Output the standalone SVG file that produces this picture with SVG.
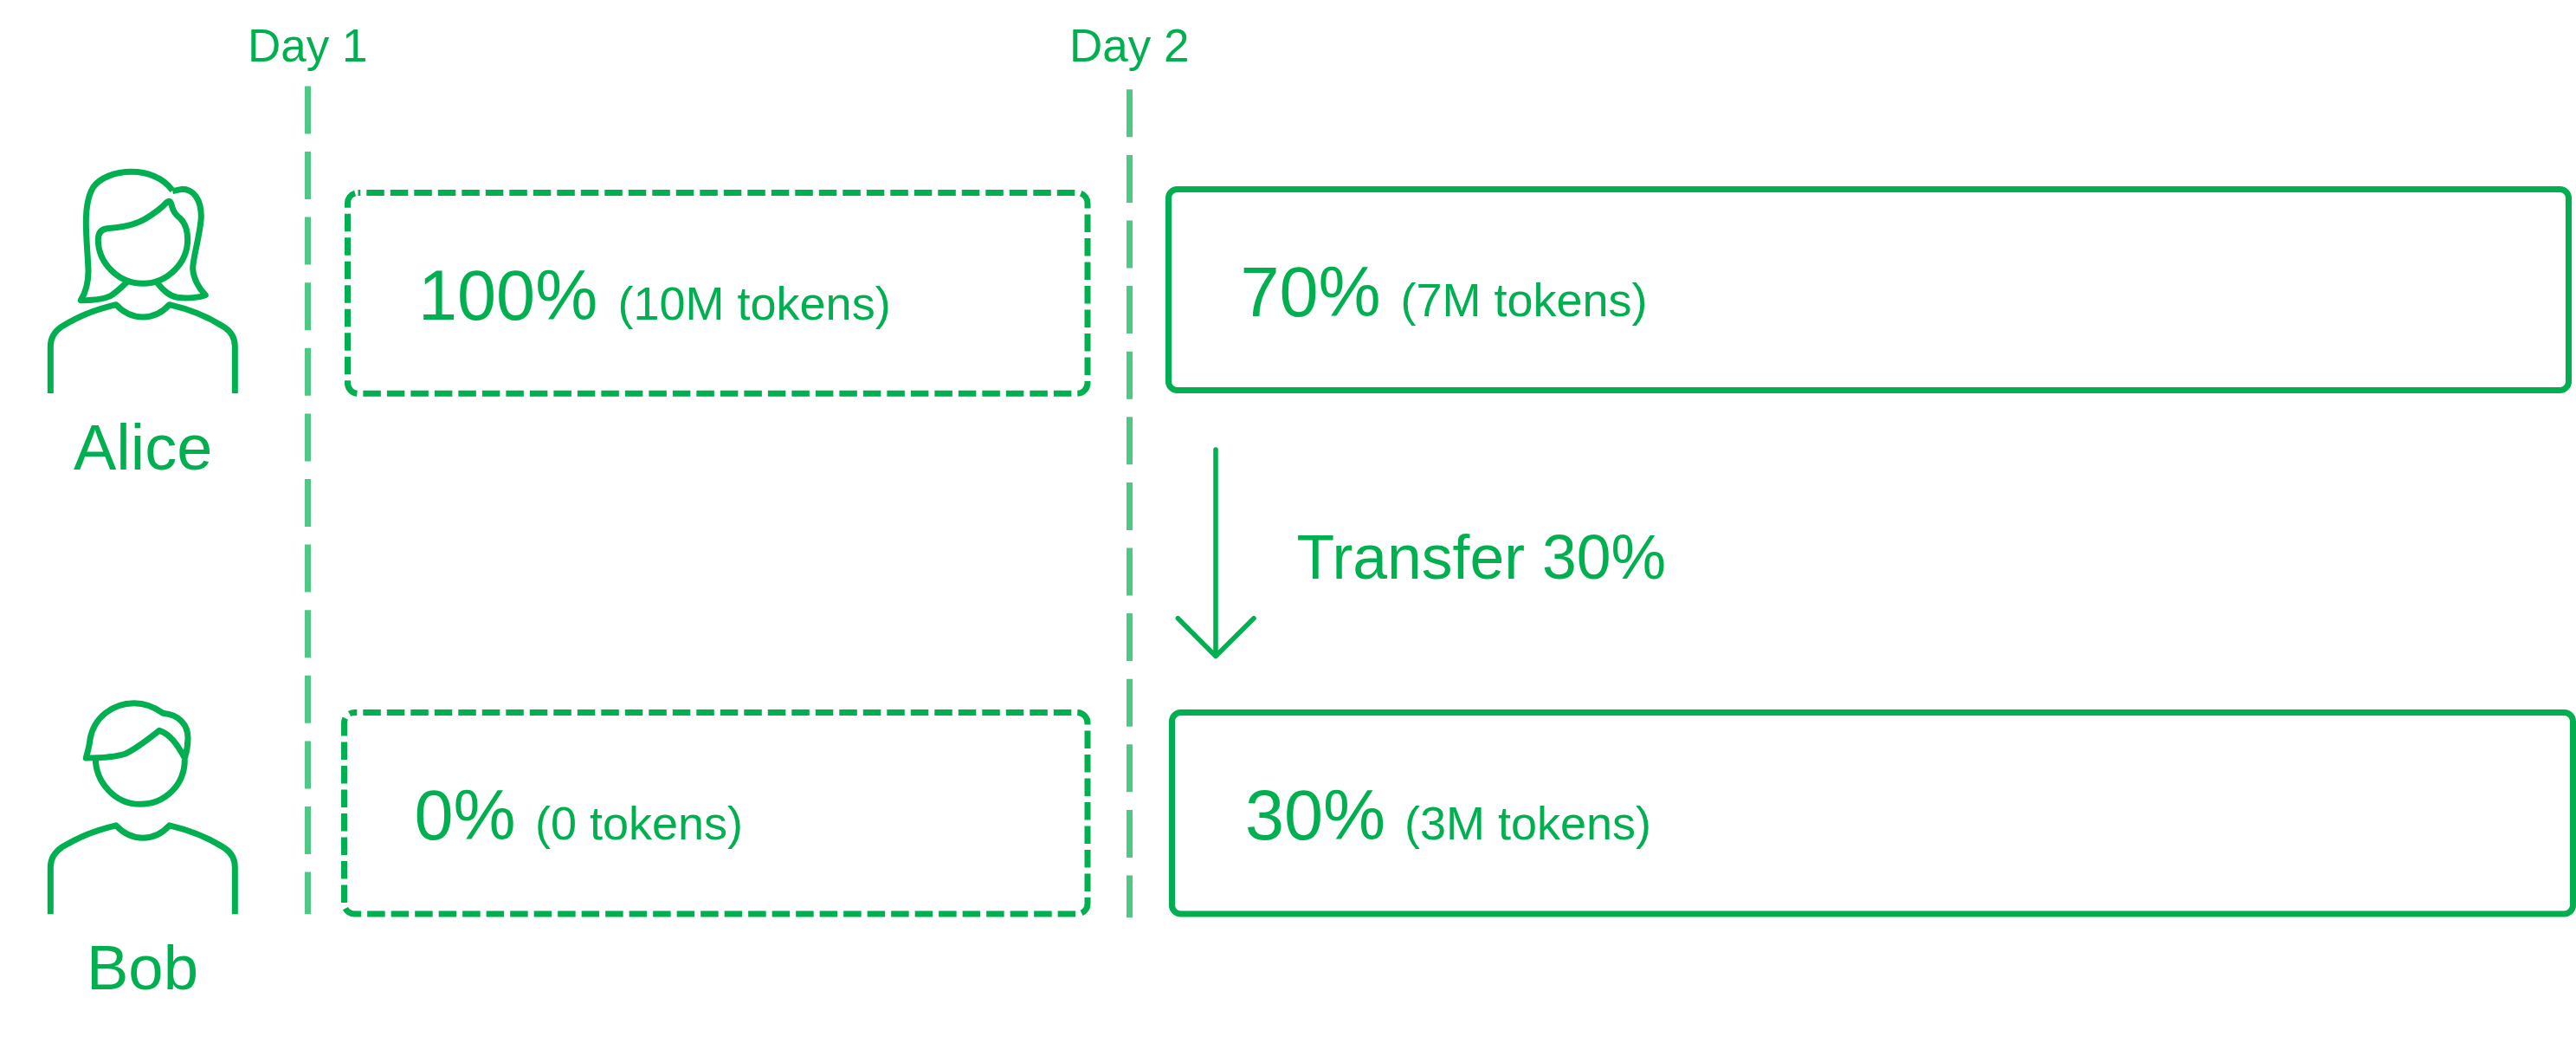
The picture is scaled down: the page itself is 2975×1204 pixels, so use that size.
<svg xmlns="http://www.w3.org/2000/svg" width="2975" height="1204" viewBox="0 0 2975 1204">
<style>
text{font-family:"Liberation Sans",Arial,sans-serif;fill:#00B050}
.t53{font-size:53px}.t71{font-size:71.5px}.t74{font-size:74px}.t72{font-size:72.5px}.t85{font-size:81px}.t54{font-size:54px}
.box{fill:none;stroke:#00B050;stroke-width:7}
.dash{stroke-dasharray:20.5 7;stroke-dashoffset:17.7}
.day{fill:none;stroke:#00B050;stroke-width:7;stroke-opacity:.69;stroke-dasharray:55 20.6}
.ico{fill:none;stroke:#00B050;stroke-width:21;stroke-linejoin:round}
.arrow{fill:none;stroke:#00B050;stroke-width:5.5;stroke-linecap:round;stroke-linejoin:round}
</style>
<defs>
<path id="body" d="M175,912 V750 C175,722 188,698 215,680 C275,645 320,625 402,605 C430,635 460,648 495,648 C530,648 560,635 587,605 C660,622 720,645 780,685 C802,700 814,725 814,750 V912"/>
</defs>
<rect width="2975" height="1204" fill="#fff"/>
<g id="day1"><text class="t53" x="286" y="71">Day 1</text></g>
<g id="day2"><text class="t53" x="1235" y="71">Day 2</text></g>
<g id="connectors">
<path id="day1-line" class="day" d="M355.5,99.4 V1055.3"/>
<path id="day2-line" class="day" d="M1304.5,103.3 V1059.3"/>
<path id="transfer-arrow" class="arrow" d="M1404,519 V757 M1360.3,713.7 L1404,757.5 L1448,713.7"/>
</g>
<g id="alice">
<g class="ico" transform="translate(0,150) scale(.33333)">
<use href="#body"/>
<path d="M598,210 C565,165 510,145 455,145 C400,145 345,165 322,200 C303,232 298,270 298,320 C298,380 305,440 306,490 C306,530 295,565 280,590 C330,590 370,585 390,570 C405,560 420,545 440,527"/>
<path d="M545,530 C565,555 585,575 615,580 C650,585 690,580 712,572 C690,550 670,515 668,480 C668,440 695,360 697,300 C697,240 670,205 630,205 L598,212"/>
<path d="M340,380 C340,355 352,343 372,341 C420,338 465,330 500,310 C530,292 560,270 578,250 C590,242 592,252 596,265 C600,285 610,295 625,307 C640,322 650,345 650,380 C650,460 580,532 495,532 C410,532 340,460 340,380 Z"/>
</g>
<text class="t74" x="85" y="542">Alice</text>
</g>
<g id="bob">
<g class="ico" transform="translate(0,760) scale(.33333)">
<use href="#body" y="-26.5"/>
<path d="M331,345 C331,430 400,505 485,505 C570,505 640,440 640,350"/>
<path d="M298,345 C350,345 400,342 435,330 C475,312 520,275 552,250 C590,262 615,300 640,345 C648,320 651,300 651,275 C651,230 620,195 565,190 C535,168 505,155 465,155 C390,155 325,205 312,280 C310,305 303,325 298,345 Z"/>
</g>
<text class="t72" x="100" y="1141.5">Bob</text>
</g>
<g id="alice-day1">
<rect class="box dash" x="401.5" y="222.5" width="854.5" height="231.7" rx="12"/>
<text class="t85" x="483" y="369">100%</text>
<text class="t54" x="713.5" y="369">(10M tokens)</text>
</g>
<g id="alice-day2">
<rect class="box" x="1349.5" y="218.5" width="1617" height="232" rx="10"/>
<text class="t85" x="1432.5" y="365">70%</text>
<text class="t54" x="1617.5" y="365">(7M tokens)</text>
</g>
<g id="bob-day1">
<rect class="box dash" x="397.5" y="822.5" width="858.5" height="232.5" rx="12"/>
<text class="t85" x="478.5" y="969.3">0%</text>
<text class="t54" x="618" y="969.3">(0 tokens)</text>
</g>
<g id="bob-day2">
<rect class="box" x="1353.5" y="822.5" width="1618" height="232.5" rx="10"/>
<text class="t85" x="1438" y="969.3">30%</text>
<text class="t54" x="1622" y="969.3">(3M tokens)</text>
</g>
<g id="transfer-label"><text class="t71" x="1497.5" y="667.7">Transfer 30%</text></g>
</svg>
